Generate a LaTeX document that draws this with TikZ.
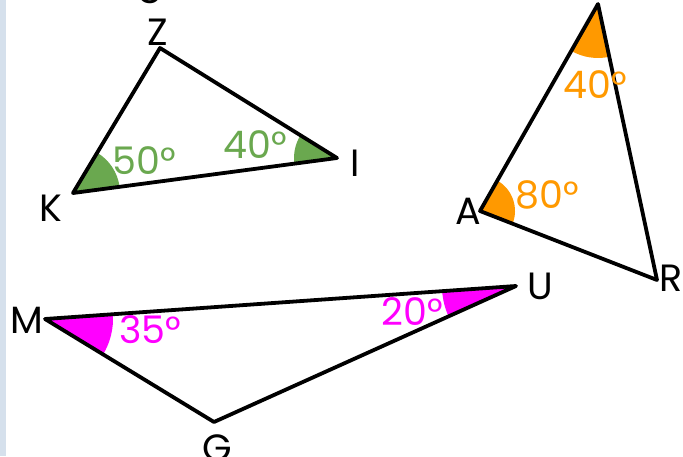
\documentclass[tikz,border=0pt]{standalone}
\usepackage{fontspec}
\setmainfont{Poppins}
\usepackage{tikz}
\usetikzlibrary{angles}
\definecolor{kzigreen}{HTML}{6AA84F}
\definecolor{tarorange}{HTML}{FF9900}
\definecolor{mugpink}{HTML}{FF00FF}
\definecolor{stripblue}{HTML}{D5E0EC}

\begin{document}
\begin{tikzpicture}[x=1pt, y=1pt,
  side/.style={line width=3.8pt, black, line join=round},
  vlab/.style={font=\fontsize{38}{42}\selectfont, inner sep=0pt},
  deg/.style={font=\fontsize{38}{42}\selectfont, inner sep=0pt}
]
  \useasboundingbox (0,0) rectangle (683,456);
  \fill[stripblue] (0,0) rectangle (6,456);
  \node[vlab, anchor=base] (cut) at (150,462) {g};

  % triangle KZI
  \coordinate (K) at (73,263);
  \coordinate (Z) at (160,408);
  \coordinate (I) at (337,298);
  \pic[fill=kzigreen, angle radius=47pt] {angle=I--K--Z};
  \pic[fill=kzigreen, angle radius=43pt] {angle=Z--I--K};
  \draw[side] (K) -- (Z) -- (I) -- cycle;
  \node[vlab] (labZ) at (158,424) {Z};
  \node[vlab] (labK) at (51,248) {K};
  \node[vlab] (labI) at (355,293) {I};
  \node[deg, kzigreen] (angK) at (144,295) {50°};
  \node[deg, kzigreen] (angI) at (255,311) {40°};

  % triangle TAR
  \coordinate (T) at (598,452);
  \coordinate (A) at (480,245);
  \coordinate (R) at (657,176);
  \pic[fill=tarorange, angle radius=54pt] {angle=A--T--R};
  \pic[fill=tarorange, angle radius=35pt] {angle=R--A--T};
  \draw[side] (A) -- (T) -- (R) -- cycle;
  \node[vlab] (labA) at (468,245) {A};
  \node[vlab] (labR) at (671,178) {R};
  \node[deg, tarorange] (angT) at (595,371) {40°};
  \node[deg, tarorange] (angA) at (547,261) {80°};

  % triangle MUG
  \coordinate (M) at (45,137);
  \coordinate (U) at (516,170);
  \coordinate (G) at (214,34);
  \pic[fill=mugpink, angle radius=68pt] {angle=G--M--U};
  \pic[fill=mugpink, angle radius=74pt] {angle=M--U--G};
  \draw[side] (M) -- (U) -- (G) -- cycle;
  \node[vlab] (labM) at (27,136) {M};
  \node[vlab] (labU) at (540,170) {U};
  \node[vlab] (labG) at (217,8) {G};
  \node[deg, mugpink] (angM) at (150,126) {35°};
  \node[deg, mugpink] (angU) at (412,144) {20°};
\end{tikzpicture}
\end{document}
